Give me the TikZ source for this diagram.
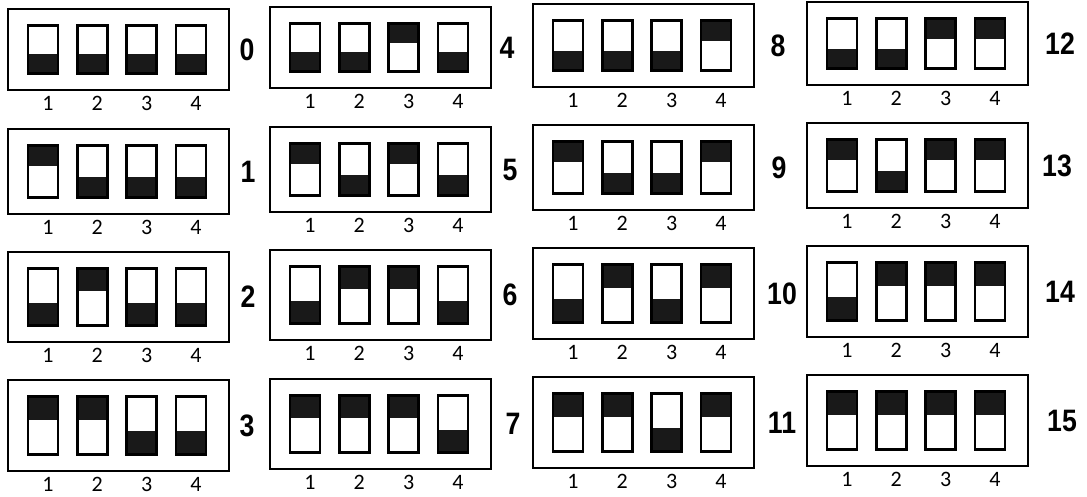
\documentclass[tikz,border=0pt]{standalone}
\usepackage{fontspec}
\setmainfont{Liberation Sans}
\newfontfamily\labfont{Carlito}
\newfontfamily\numfont[FakeStretch=0.86]{Liberation Sans Bold}
\usetikzlibrary{calc}
\definecolor{dipdark}{gray}{0.1}
\begin{document}
\begin{tikzpicture}[x=1pt,y=-1pt,
  dipbox/.style={draw=black, line width=2.2pt, fill=white, inner sep=0pt, minimum width=221pt},
  switch/.style={draw=black, line width=2.4pt, inner sep=0pt, minimum width=30pt},
  sw1/.style={path picture={\fill[dipdark] (path picture bounding box.north west) rectangle ($(path picture bounding box.north east)!0.4!(path picture bounding box.south east)$);}},
  sw0/.style={path picture={\fill[dipdark] ($(path picture bounding box.north west)!0.6!(path picture bounding box.south west)$) rectangle (path picture bounding box.south east);}},
  lab/.style={inner sep=0pt, font=\labfont\fontsize{22}{22}\selectfont},
  num/.style={inner sep=0pt, font=\numfont\fontsize{31}{31}\selectfont}
]
\useasboundingbox (0,0) rectangle (1087,496);
\foreach \n/\c/\t/\b/\nx in {
  0/0/9/90/247, 1/0/129/214/248, 2/0/252/342/248, 3/0/380/471/247,
  4/1/7/88/507, 5/1/127/212/510, 6/1/250/340/510, 7/1/379/469/513,
  8/2/4/87/778, 9/2/125/210/779, 10/2/248/339/782, 11/2/377/468/782,
  12/3/2/85/1060, 13/3/123/208/1057, 14/3/246/337/1060, 15/3/375/466/1062}{
  \pgfmathsetmacro\bl{{8,270,533,807}[\c]}
  \pgfmathsetmacro\h{\b-\t}
  \pgfmathsetmacro\my{(\t+\b)/2}
  \pgfmathsetmacro\sh{\h-33}
  \node[dipbox, minimum height=\h pt] (b\n) at ({\bl+110.5},\my) {};
  \node[num] (n\n) at (\nx,\my) {\n};
  \foreach \i in {1,...,4}{
    \pgfmathtruncatemacro\bit{mod(floor(\n/2^(\i-1)),2)}
    \pgfmathsetmacro\sx{\bl+35+49.3*(\i-1)}
    \node[switch, sw\bit, minimum height=\sh pt] (s\n-\i) at (\sx,\my) {};
    \node[lab] (l\n-\i) at ({\sx+5},{\b+13}) {\i};
  }
}
\end{tikzpicture}
\end{document}
